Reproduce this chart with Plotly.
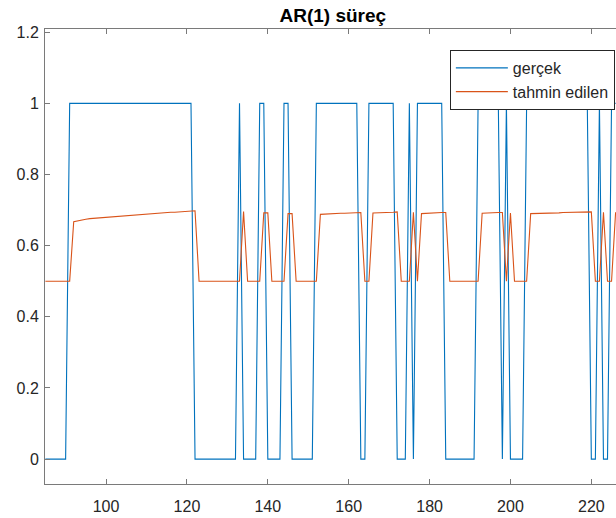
import plotly.graph_objects as go

# Time index of the sample window
t = list(range(85, 227))

# Observed binary process (gerçek)
gercek = [
    0, 0, 0, 0, 0, 0,                                   # 85-90
    1, 1, 1, 1, 1, 1, 1, 1, 1, 1, 1, 1, 1, 1, 1, 1,     # 91-106
    1, 1, 1, 1, 1, 1, 1, 1, 1, 1, 1, 1, 1, 1, 1,        # 107-121
    0, 0, 0, 0, 0, 0, 0, 0, 0, 0, 0,                    # 122-132
    1,                                                  # 133
    0, 0, 0, 0,                                         # 134-137
    1, 1,                                               # 138-139
    0, 0, 0, 0,                                         # 140-143
    1, 1,                                               # 144-145
    0, 0, 0, 0, 0, 0,                                   # 146-151
    1, 1, 1, 1, 1, 1, 1, 1, 1, 1, 1,                    # 152-162
    0, 0,                                               # 163-164
    1, 1, 1, 1, 1, 1, 1,                                # 165-171
    0, 0, 0,                                            # 172-174
    1,                                                  # 175
    0,                                                  # 176
    1, 1, 1, 1, 1, 1, 1,                                # 177-183
    0, 0, 0, 0, 0, 0, 0, 0,                             # 184-191
    1, 1, 1, 1, 1, 1,                                   # 192-197
    0,                                                  # 198
    1,                                                  # 199
    0, 0, 0, 0,                                         # 200-203
    1, 1, 1, 1, 1, 1, 1, 1, 1, 1, 1, 1, 1, 1, 1, 1,     # 204-219
    0, 0,                                               # 220-221
    1,                                                  # 222
    0, 0,                                               # 223-224
    1, 1,                                               # 225-226
]

# One-step-ahead prediction (tahmin edilen)
tahmin = [
    0.5, 0.5, 0.5, 0.5, 0.5, 0.5, 0.5,                                  # 85-91
    0.667, 0.670, 0.672, 0.674, 0.676, 0.677, 0.678, 0.679, 0.680, 0.681,  # 92-101
    0.682, 0.683, 0.684, 0.685, 0.686, 0.687, 0.688, 0.689, 0.690, 0.690,  # 102-111
    0.691, 0.692, 0.692, 0.693, 0.694, 0.694, 0.695, 0.696, 0.696, 0.697,  # 112-121
    0.698,                                                              # 122
    0.5, 0.5, 0.5, 0.5, 0.5, 0.5, 0.5, 0.5, 0.5, 0.5, 0.5,              # 123-133
    0.696,                                                              # 134
    0.5, 0.5, 0.5, 0.5,                                                 # 135-138
    0.692, 0.692,                                                       # 139-140
    0.5, 0.5, 0.5, 0.5,                                                 # 141-144
    0.690, 0.690,                                                       # 145-146
    0.5, 0.5, 0.5, 0.5, 0.5, 0.5,                                       # 147-152
    0.688, 0.689, 0.689, 0.690, 0.690, 0.691, 0.691, 0.692, 0.692, 0.693, 0.693,  # 153-163
    0.5, 0.5,                                                           # 164-165
    0.692, 0.692, 0.693, 0.693, 0.694, 0.694, 0.695,                    # 166-172
    0.5, 0.5, 0.5,                                                      # 173-175
    0.694,                                                              # 176
    0.5,                                                                # 177
    0.690, 0.691, 0.691, 0.692, 0.692, 0.693, 0.693,                    # 178-184
    0.5, 0.5, 0.5, 0.5, 0.5, 0.5, 0.5, 0.5,                             # 185-192
    0.691, 0.692, 0.692, 0.692, 0.693, 0.693,                           # 193-198
    0.5,                                                                # 199
    0.692,                                                              # 200
    0.5, 0.5, 0.5, 0.5,                                                 # 201-204
    0.690, 0.690, 0.691, 0.691, 0.691, 0.692, 0.692, 0.692,             # 205-212
    0.693, 0.693, 0.693, 0.694, 0.694, 0.694, 0.695, 0.695,             # 213-220
    0.5, 0.5,                                                           # 221-222
    0.694,                                                              # 223
    0.5, 0.5,                                                           # 224-225
    0.694,                                                              # 226
]

x_ticks = [100, 120, 140, 160, 180, 200, 220]
y_ticks = [0, 0.2, 0.4, 0.6, 0.8, 1.0, 1.2]
y_tick_text = ["0", "0.2", "0.4", "0.6", "0.8", "1", "1.2"]

FONT = "Liberation Sans, Arial, Helvetica, sans-serif"
AXIS_COLOR = "#7a7a7a"
TEXT_COLOR = "#262626"

fig = go.Figure()
fig.add_trace(go.Scatter(x=t, y=gercek, mode="lines", name="gerçek",
                         line=dict(color="#0072BD", width=1.1)))
fig.add_trace(go.Scatter(x=t, y=tahmin, mode="lines", name="tahmin edilen",
                         line=dict(color="#D95319", width=1.1)))

fig.update_layout(
    width=616, height=518,
    margin=dict(l=45, r=0, t=29, b=34),
    paper_bgcolor="white", plot_bgcolor="white",
    font=dict(family=FONT, size=16, color=TEXT_COLOR),
    title=dict(text="<b>AR(1) süreç</b>", x=0.504, xref="paper", xanchor="center",
               y=1 - 15 / 518, yref="container", yanchor="middle",
               font=dict(family=FONT, size=19, color="#000000")),
    showlegend=True,
    legend=dict(x=0.998, y=0.954, xanchor="right", yanchor="top",
                bgcolor="white", bordercolor=TEXT_COLOR, borderwidth=1,
                font=dict(family=FONT, size=16, color=TEXT_COLOR),
                itemwidth=52, tracegroupgap=0),
    xaxis=dict(range=[84.9, 226.1], tickvals=x_ticks, ticks="inside", ticklen=5,
               tickcolor=AXIS_COLOR, showline=True, linecolor=AXIS_COLOR, linewidth=1,
               mirror="ticks", showgrid=False, zeroline=False, ticklabelstandoff=8,
               tickfont=dict(family=FONT, size=16, color=TEXT_COLOR)),
    yaxis=dict(range=[-0.07, 1.209], tickvals=y_ticks, ticktext=y_tick_text,
               ticks="inside", ticklen=5, tickcolor=AXIS_COLOR,
               showline=True, linecolor=AXIS_COLOR, linewidth=1,
               mirror=False, showgrid=False, zeroline=False, ticklabelstandoff=2,
               tickfont=dict(family=FONT, size=16, color=TEXT_COLOR)),
)

fig.write_html("out.html")
